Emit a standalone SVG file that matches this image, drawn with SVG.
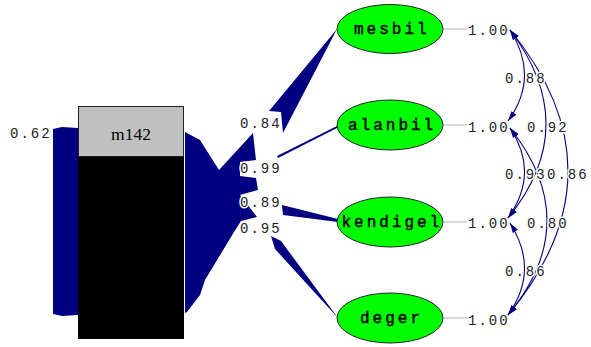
<svg xmlns="http://www.w3.org/2000/svg" width="591" height="347" viewBox="0 0 591 347">
<style>
.num{font-family:"Liberation Mono",monospace;font-size:14px;letter-spacing:2px;fill:#222;}
.halo{paint-order:stroke;stroke:#fff;stroke-width:3px;stroke-linejoin:round;}
.ell{fill:#00ff00;stroke:#222;stroke-width:1;}
.elab{font-family:"Liberation Mono",monospace;font-size:16px;letter-spacing:3px;fill:#000;stroke:#000;stroke-width:0.45px;}
.big{fill:#000080;stroke:none;}
.cor{fill:none;stroke:#000080;stroke-width:1.1;marker-start:url(#ah);marker-end:url(#ah);}
.gl{stroke:#c0c0c0;stroke-width:1.2;}
</style>
<defs>
<marker id="ah" viewBox="0 0 10 6" refX="10" refY="3" markerWidth="10" markerHeight="7" markerUnits="userSpaceOnUse" orient="auto-start-reverse">
<path d="M0,0 L10,3 L0,6 Z" fill="#000080"/>
</marker>
</defs>
<rect width="591" height="347" fill="#fff"/>
<g id="connectors">
<polygon class="big" points="53,129 62,127 78,128 78,315 62,316 53,314"/>
<polygon class="big" points="185,132 200,140 219,170 253,133 256,160 240,162 240,176 256,178 258,190 240,195 257,217 241,221 234,232 205,280 200,295 187,312 185,313"/>
<polygon class="big" points="337,29 269,111 281,112 283,133"/>
<polygon class="big" points="337,126 277,156 278,158 337,128"/>
<polygon class="big" points="282,205 338,219 338,222 283,215"/>
<polygon class="big" points="271,236 281,241 338,318 275,249"/>
<line class="gl" x1="444" y1="29" x2="467" y2="29"/>
<line class="gl" x1="444" y1="125" x2="467" y2="125"/>
<line class="gl" x1="444" y1="222" x2="467" y2="222"/>
<line class="gl" x1="444" y1="318" x2="467" y2="318"/>
<path class="cor" d="M510,30 Q540,77 508,121"/>
<path class="cor" d="M510,30 Q583,126 508,218"/>
<path class="cor" d="M510,30 Q627,172 508,315"/>
<path class="cor" d="M510,128 Q540,173 508,218"/>
<path class="cor" d="M510,128 Q585,222 508,315"/>
<path class="cor" d="M510,223 Q540,270 508,315"/>
<text class="num halo" x="10" y="138">0.62</text>
<text class="num" x="240" y="128">0.84</text>
<text class="num halo" x="240" y="173">0.99</text>
<text class="num halo" x="240" y="207">0.89</text>
<text class="num halo" x="240" y="233">0.95</text>
<text class="num halo" x="505" y="83">0.88</text>
<text class="num halo" x="527" y="132">0.92</text>
<text class="num halo" x="505" y="179">0.93</text>
<text class="num halo" x="547" y="179">0.86</text>
<text class="num halo" x="527" y="228">0.80</text>
<text class="num halo" x="505" y="276">0.86</text>
</g>
<g id="m142">
<rect x="78" y="156" width="106" height="183" fill="#000"/>
<rect x="78.5" y="106.5" width="105" height="50" fill="#c0c0c0" stroke="#222" stroke-width="1"/>
<text x="131" y="140" font-family="Liberation Serif,serif" font-size="17.5" text-anchor="middle" fill="#000">m142</text>
</g>
<g id="mesbil">
<ellipse class="ell" cx="390" cy="29" rx="53" ry="24.5"/>
<text class="elab" x="354" y="34">mesbil</text>
<text class="num" x="468" y="35">1.00</text>
</g>
<g id="alanbil">
<ellipse class="ell" cx="390" cy="125" rx="53" ry="25"/>
<text class="elab" x="348" y="130">alanbil</text>
<text class="num" x="468" y="132">1.00</text>
</g>
<g id="kendigel">
<ellipse class="ell" cx="390" cy="222" rx="53" ry="25"/>
<text class="elab" x="341.5" y="227">kendigel</text>
<text class="num" x="468" y="228">1.00</text>
</g>
<g id="deger">
<ellipse class="ell" cx="390" cy="318" rx="53" ry="25"/>
<text class="elab" x="360" y="323">deger</text>
<text class="num" x="468" y="325">1.00</text>
</g>
</svg>
